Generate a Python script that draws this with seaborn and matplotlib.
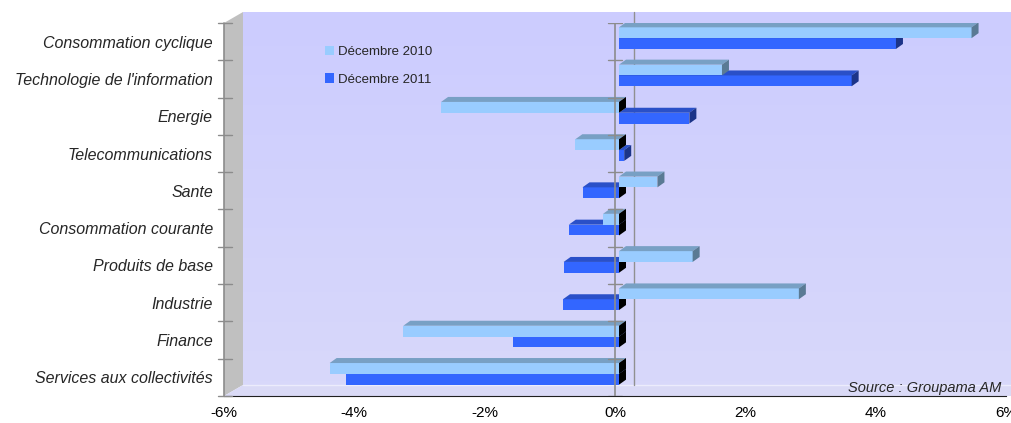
import numpy as np
import pandas as pd
import matplotlib
matplotlib.use("Agg")
import matplotlib.pyplot as plt
import matplotlib.transforms as mtransforms
from matplotlib.patches import Polygon, Patch
import seaborn as sns

# data (% performance)
secteurs = ["Consommation cyclique", "Technologie de l'information", "Energie",
            "Telecommunications", "Sante", "Consommation courante",
            "Produits de base", "Industrie", "Finance", "Services aux collectivités"]
dec_2010 = [5.41, 1.58, -2.73, -0.67, 0.59, -0.245, 1.13, 2.76, -3.31, -4.44]
dec_2011 = [4.25, 3.57, 1.08, 0.08, -0.56, -0.77, -0.85, -0.86, -1.63, -4.19]
periodes = ["Décembre 2010", "Décembre 2011"]
xticks = [-6, -4, -2, 0, 2, 4, 6]

# front / top / side colours of each series
faces = {"Décembre 2010": ("#99ccff", "#78a0c4", "#5a7a94"),
         "Décembre 2011": ("#3366ff", "#2a50c8", "#1c3488")}

df = pd.DataFrame({
    "secteur": secteurs * 2,
    "valeur": dec_2010 + dec_2011,
    "periode": [periodes[0]] * len(secteurs) + [periodes[1]] * len(secteurs),
})

sns.set_style("white")
plt.rcParams["font.family"] = ["Liberation Sans", "DejaVu Sans"]

W, H = 1011, 423
fig = plt.figure(figsize=(W / 100, H / 100), dpi=100)

# background: side wall, back wall, floor (pixel coordinates)
bg = fig.add_axes([0, 0, 1, 1], zorder=0)
bg.set_xlim(0, W)
bg.set_ylim(H, 0)
bg.axis("off")
grad = np.linspace(0, 1, 100)[:, None]
c_top = np.array([204, 204, 255]) / 255
c_bot = np.array([216, 216, 250]) / 255
img = (c_top[None, None, :] * (1 - grad[..., None]) + c_bot[None, None, :] * grad[..., None])
bg.imshow(img, extent=[243, W, 385, 12], aspect="auto", zorder=0)
bg.add_patch(Polygon([(224, 23), (243, 12), (243, 385), (224, 396)], closed=True,
                     facecolor="#c0c0c0", edgecolor="none", zorder=1))
bg.add_patch(Polygon([(224, 396), (243, 385), (W, 385), (W, 396)], closed=True,
                     facecolor="#dadaf6", edgecolor="none", zorder=1))
bg.plot([243, W], [385, 385], color="#ececfc", lw=1, zorder=2)
bg.plot([633.7, 633.7], [12, 385], color="#909090", lw=1, zorder=2)

# main axes: -6..6 over px 224..1006, categories over px 23..396
ax = fig.add_axes([224 / W, (H - 396) / H, 782 / W, 373 / H], zorder=1)
ax.patch.set_alpha(0)

sns.barplot(data=df, x="valeur", y="secteur", hue="periode", order=secteurs,
            hue_order=periodes, palette=[faces[p][0] for p in periodes],
            orient="h", width=0.58, saturation=1, legend=False, ax=ax)

ax.set_xlim(-6, 6)
ax.set_ylim(9.5, -0.5)

# fake 3D: shift bars slightly and add top/side faces
off = mtransforms.offset_copy(ax.transData, fig=fig, x=4, y=3.5, units="dots")
ddx = 7 / (782 / 12)
ddy = 5 / (373 / 10)
for k, (cont, per) in enumerate(zip(ax.containers, periodes)):
    z = 3 if k == 0 else 2
    front, top_c, side_c = faces[per]
    for p in cont:
        p.set_transform(off)
        p.set_zorder(z)
        p.set_edgecolor("none")
        x0 = p.get_x()
        x1 = x0 + p.get_width()
        xa, xb = min(x0, x1), max(x0, x1)
        yt = p.get_y()
        yb = yt + p.get_height()
        ax.add_patch(Polygon([(xa, yt), (xb, yt), (xb + ddx, yt - ddy), (xa + ddx, yt - ddy)],
                             closed=True, facecolor=top_c, edgecolor="none",
                             transform=off, zorder=z))
        sc = "#000000" if p.get_width() < 0 else side_c
        ax.add_patch(Polygon([(xb, yt), (xb + ddx, yt - ddy), (xb + ddx, yb - ddy), (xb, yb)],
                             closed=True, facecolor=sc, edgecolor="none",
                             transform=off, zorder=z))

# front axes lines with category ticks
bounds = np.arange(-0.5, 10, 1)
ax.plot([0, 0], [-0.5, 9.5], color="#8c8c8c", lw=1.2, zorder=5)
ax.plot([-6, -6], [-0.5, 9.5], color="#8c8c8c", lw=1.2, zorder=5, clip_on=False)
for b in bounds:
    ax.plot([-0.11, 0.11], [b, b], color="#8c8c8c", lw=1, zorder=5)
    ax.plot([-6.09, -5.88], [b, b], color="#8c8c8c", lw=1, zorder=5, clip_on=False)

for s in ["top", "right", "left"]:
    ax.spines[s].set_visible(False)
ax.spines["bottom"].set_color("#202020")
ax.set_xticks(xticks, [f"{v}%" for v in xticks])
ax.tick_params(axis="x", length=5, color="#404040", pad=2, labelsize=11, labelcolor="black")
ax.tick_params(axis="y", length=0, pad=8, labelsize=11.5)
for lbl in ax.get_yticklabels():
    lbl.set_fontstyle("italic")
ax.set_xlabel("")
ax.set_ylabel("")

handles = [Patch(facecolor=faces[p][0], edgecolor="none") for p in periodes]
ax.legend(handles, periodes, loc="upper left", bbox_to_anchor=(325 / W, 1 - 46 / H),
          bbox_transform=fig.transFigure, frameon=False, fontsize=9.5,
          handlelength=0.7, handleheight=0.7, handletextpad=0.3,
          labelspacing=1.15, borderpad=0, borderaxespad=0)

fig.text(1001 / W, 1 - 392 / H, "Source : Groupama AM", ha="right", va="baseline",
         fontsize=10.5, fontstyle="italic", zorder=6)

fig.savefig("out.png", dpi=100)
